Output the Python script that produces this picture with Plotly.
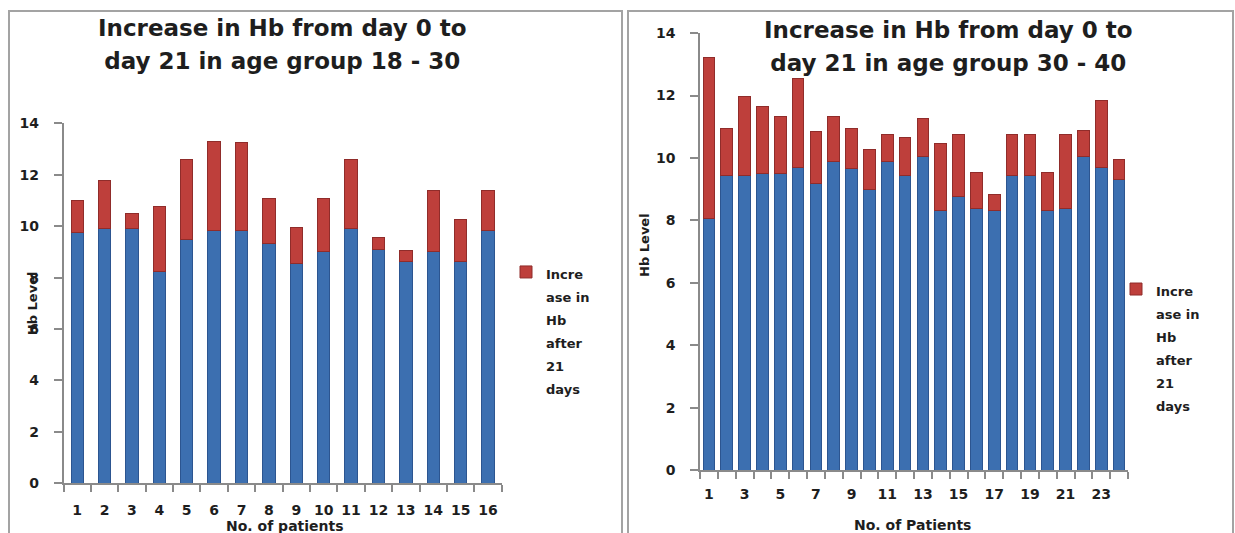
import plotly.graph_objects as go

# Hb level (g/dL) per patient, age group 18 - 30
patients_a = list(range(1, 17))
hb_day0_a = [9.75, 9.90, 9.90, 8.23, 9.50, 9.82, 9.82, 9.33, 8.55, 9.00, 9.90, 9.11, 8.63, 9.00, 8.63, 9.83]
hb_day21_a = [11.00, 11.78, 10.50, 10.77, 12.59, 13.30, 13.24, 11.08, 9.96, 11.08, 12.59, 9.57, 9.07, 11.39, 10.28, 11.39]

# Hb level (g/dL) per patient, age group 30 - 40
patients_b = list(range(1, 25))
hb_day0_b = [8.07, 9.44, 9.44, 9.49, 9.49, 9.71, 9.19, 9.89, 9.65, 8.99, 9.89, 9.44,
             10.04, 8.31, 8.78, 8.39, 8.31, 9.44, 9.44, 8.31, 8.39, 10.04, 9.71, 9.32]
hb_day21_b = [13.21, 10.94, 11.98, 11.65, 11.32, 12.56, 10.86, 11.32, 10.94, 10.28, 10.74, 10.66,
              11.26, 10.47, 10.74, 9.55, 8.83, 10.74, 10.74, 9.55, 10.74, 10.88, 11.85, 9.95]

increase_a = [round(b - a, 2) for a, b in zip(hb_day0_a, hb_day21_a)]
increase_b = [round(b - a, 2) for a, b in zip(hb_day0_b, hb_day21_b)]

title_a = ["Increase in Hb from day 0 to", "day 21 in age group 18 - 30"]
title_b = ["Increase in Hb from day 0 to", "day 21 in age group 30 - 40"]
xlabel_a = "No. of patients"
xlabel_b = "No. of Patients"
ylabel = "Hb Level"
legend_lines = ["Incre", "ase in", "Hb", "after", "21", "days"]

W, H = 1235, 533
BLUE, BLUE_EDGE = "#3c6fb0", "#2c5590"
RED, RED_EDGE = "#be3f3b", "#902c2a"
AXIS = "#8a8a8a"
TEXT = "#1e1e1e"
FONT = "DejaVu Sans"

# vertical drawing band of the page, in pixels
TOP, BAND = 9, 515


def px_x(v):
    return v / W


def px_y(v):
    return 1 - (v - TOP) / BAND


def spaced(lines, size):
    """Join lines with <br>, drawing glyphs at `size` while the parent font sets line spacing."""
    return "<br>".join(f"<span style='font-size:{size}px'>{s}</span>" for s in lines)


legend_name = spaced(legend_lines, 13)

fig = go.Figure()

fig.add_trace(go.Bar(x=patients_a, y=hb_day0_a, name="Hb at day 0", showlegend=False,
                     marker=dict(color=BLUE, line=dict(color=BLUE_EDGE, width=1)),
                     xaxis="x", yaxis="y"))
fig.add_trace(go.Bar(x=patients_a, y=increase_a, name=legend_name, legend="legend",
                     marker=dict(color=RED, line=dict(color=RED_EDGE, width=1)),
                     xaxis="x", yaxis="y"))
fig.add_trace(go.Bar(x=patients_b, y=hb_day0_b, name="Hb at day 0", showlegend=False, width=0.66,
                     marker=dict(color=BLUE, line=dict(color=BLUE_EDGE, width=1)),
                     xaxis="x2", yaxis="y2"))
fig.add_trace(go.Bar(x=patients_b, y=increase_b, name=legend_name, legend="legend2", width=0.66,
                     marker=dict(color=RED, line=dict(color=RED_EDGE, width=1)),
                     xaxis="x2", yaxis="y2"))

tickfont = dict(family=FONT, size=14, color=TEXT, weight="bold")

common_y = dict(range=[0, 14], dtick=2, showgrid=False, zeroline=False, showline=True,
                linecolor=AXIS, linewidth=1.5, ticks="outside", ticklen=8, tickcolor=AXIS,
                tickwidth=1.5, tickfont=tickfont, ticklabelstandoff=12)

minor_x = dict(ticks="outside", ticklen=7, tickcolor=AXIS, tickwidth=1.5,
               tick0=0.5, dtick=1, showgrid=False)

fig.update_layout(
    width=W, height=H,
    margin=dict(l=0, r=0, t=0, b=0),
    paper_bgcolor="white", plot_bgcolor="white",
    barmode="stack",
    xaxis=dict(domain=[px_x(63.5), px_x(501.7)], anchor="y", range=[0.5, 16.5],
               tickvals=patients_a, ticks="", showgrid=False, zeroline=False,
               showline=True, linecolor=AXIS, linewidth=1.5, tickfont=tickfont,
               ticklabelstandoff=13, minor=minor_x),
    yaxis=dict(domain=[px_y(482.3), px_y(124)], anchor="x", **common_y),
    xaxis2=dict(domain=[px_x(700), px_x(1128)], anchor="y2", range=[0.5, 24.5],
                tickvals=patients_b[::2], ticks="", showgrid=False, zeroline=False,
                showline=True, linecolor=AXIS, linewidth=1.5, tickfont=tickfont,
                ticklabelstandoff=10, minor=minor_x),
    yaxis2=dict(domain=[px_y(469.5), px_y(34)], anchor="x2", **common_y),
    bargap=0.55,
    legend=dict(x=px_x(506), y=px_y(254), xanchor="left", yanchor="top",
                bgcolor="rgba(0,0,0,0)", valign="top",
                font=dict(family=FONT, size=17.7, color=TEXT, weight="bold")),
    legend2=dict(x=px_x(1116), y=px_y(271), xanchor="left", yanchor="top",
                 bgcolor="rgba(0,0,0,0)", valign="top",
                 font=dict(family=FONT, size=17.7, color=TEXT, weight="bold")),
)

title_font = dict(family=FONT, size=25.5, color=TEXT, weight="bold")
label_font = dict(family=FONT, size=14, color=TEXT, weight="bold")
ylabel_font = dict(family=FONT, size=13, color=TEXT, weight="bold")

annotations = [
    dict(text=spaced(title_a, 23), x=px_x(282), y=px_y(45), font=title_font),
    dict(text=spaced(title_b, 23), x=px_x(948), y=px_y(47), font=title_font),
    dict(text=xlabel_a, x=px_x(285), y=px_y(525), font=label_font),
    dict(text=xlabel_b, x=px_x(912), y=px_y(524), font=label_font),
    dict(text=ylabel, x=px_x(32), y=px_y(303), font=ylabel_font, textangle=-90),
    dict(text=ylabel, x=px_x(645), y=px_y(245), font=ylabel_font, textangle=-90),
]
for a in annotations:
    a.update(xref="paper", yref="paper", showarrow=False, xanchor="center", yanchor="middle")
fig.update_layout(annotations=annotations)

# Panel frames around each chart
frame = dict(type="rect", xref="paper", yref="paper", line=dict(color="#a3a3a3", width=2),
             fillcolor="rgba(0,0,0,0)", layer="below")
fig.update_layout(shapes=[
    dict(frame, x0=px_x(9), x1=px_x(622), y0=px_y(545), y1=px_y(12)),
    dict(frame, x0=px_x(628), x1=px_x(1233), y0=px_y(545), y1=px_y(12)),
])

fig.write_html("out.html")
